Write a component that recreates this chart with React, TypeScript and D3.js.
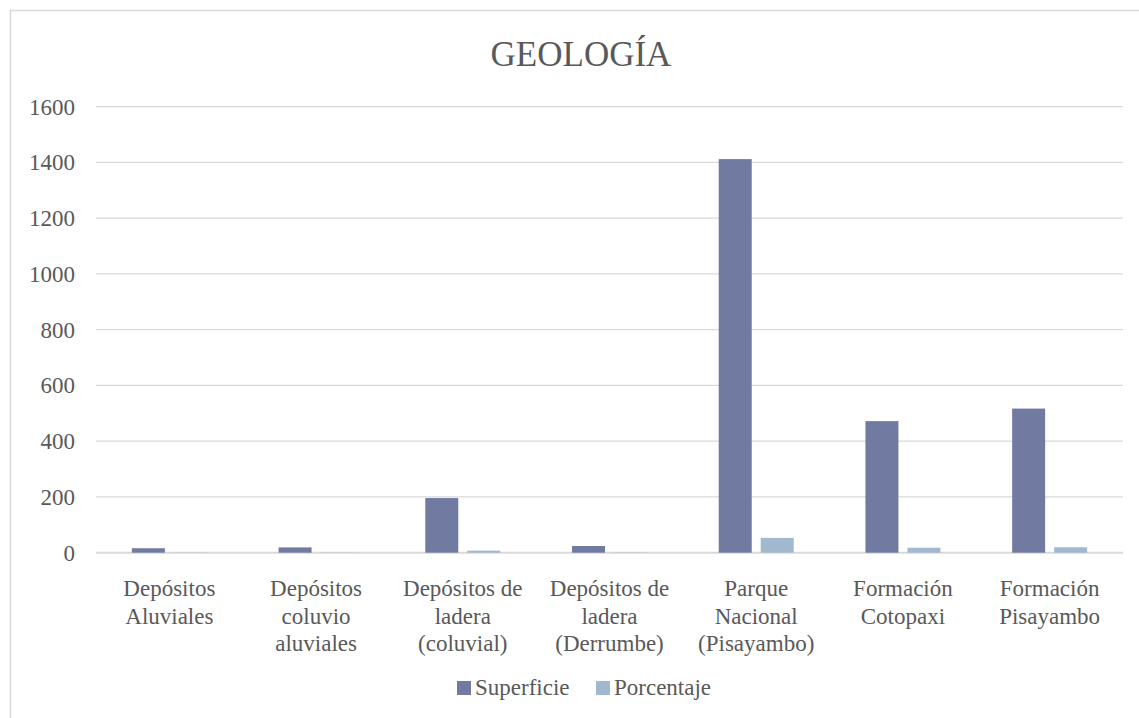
import React from "react";
import * as d3 from "d3";

const categories: string[][] = [
  ["Depósitos", "Aluviales"],
  ["Depósitos", "coluvio", "aluviales"],
  ["Depósitos de", "ladera", "(coluvial)"],
  ["Depósitos de", "ladera", "(Derrumbe)"],
  ["Parque", "Nacional", "(Pisayambo)"],
  ["Formación", "Cotopaxi"],
  ["Formación", "Pisayambo"],
];
const superficie = [16, 19, 196, 24, 1412, 472, 517];
const porcentaje = [0.6, 0.7, 7.4, 0.9, 53.2, 17.8, 19.5];
const seriesNames = ["Superficie", "Porcentaje"];
const seriesColors = ["#717BA2", "#A2B8CF"];
const yTicks = [0, 200, 400, 600, 800, 1000, 1200, 1400, 1600];

const W = 1139;
const H = 718;
const left = 96;
const right = 1123;
const top = 106.7;
const bottom = 552.7;
const textColor = "#595959";
const fontStyle = { fontFamily: '"Liberation Serif", Tinos, "Times New Roman", Times, "DejaVu Serif", serif' };

export default function App() {
  const keys = categories.map((c) => c.join(" "));
  const x0 = d3.scaleBand<string>().domain(keys).range([left, right]);
  const x1 = d3
    .scaleBand<string>()
    .domain(seriesNames)
    .range([-37.5, 37.5])
    .paddingInner(0.214);
  const y = d3.scaleLinear().domain([0, 1600]).range([bottom, top]);
  const data = [superficie, porcentaje];

  return (
    <div style={{ position: "fixed", left: 0, top: 0 }}>
      <svg width={W} height={H} style={{ display: "block", background: "#fff", ...fontStyle }}>
        <rect x={10.5} y={10.5} width={1140} height={720} fill="#fff" stroke="#D9D9D9" strokeWidth={1.5} />
        <text x={581} y={66} textAnchor="middle" style={fontStyle} fontSize={35} fill={textColor}>
          GEOLOGÍA
        </text>
        {yTicks.map((t) => (
          <g key={t}>
            <line x1={left} x2={right} y1={y(t)} y2={y(t)} stroke="#D9D9D9" strokeWidth={t === 0 ? 2 : 1.3} />
            <text x={75} y={y(t) + 8} textAnchor="end" style={fontStyle} fontSize={23} fill={textColor}>
              {t}
            </text>
          </g>
        ))}
        {keys.map((k, i) =>
          data.map((s, j) => {
            const cx = (x0(k) as number) + x0.bandwidth() / 2;
            const bx = cx + (x1(seriesNames[j]) as number);
            return (
              <rect
                key={k + j}
                x={bx}
                y={y(s[i])}
                width={x1.bandwidth()}
                height={bottom - y(s[i])}
                fill={seriesColors[j]}
              />
            );
          })
        )}
        {categories.map((lines, i) => {
          const cx = (x0(keys[i]) as number) + x0.bandwidth() / 2;
          return (
            <text key={i} textAnchor="middle" style={fontStyle} fontSize={23} fill={textColor}>
              {lines.map((l, li) => (
                <tspan key={li} x={cx} y={596 + li * 27.5}>
                  {l}
                </tspan>
              ))}
            </text>
          );
        })}
        <g>
          <rect x={457} y={681} width={14} height={14} fill={seriesColors[0]} />
          <text x={475} y={695} style={fontStyle} fontSize={23} fill={textColor}>
            {seriesNames[0]}
          </text>
          <rect x={596} y={681} width={14} height={14} fill={seriesColors[1]} />
          <text x={614} y={695} style={fontStyle} fontSize={23} fill={textColor}>
            {seriesNames[1]}
          </text>
        </g>
      </svg>
    </div>
  );
}
